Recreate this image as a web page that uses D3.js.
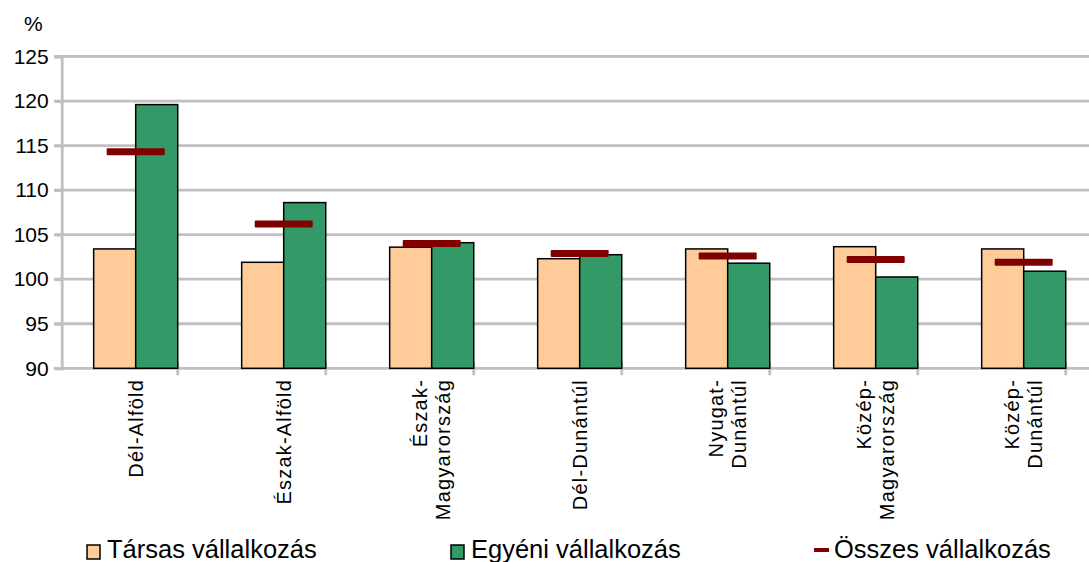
<!DOCTYPE html>
<html>
<head>
<meta charset="utf-8">
<script src="https://cdn.jsdelivr.net/npm/d3@7"></script>
<style>
  body { margin: 0; background: #fff; }
  svg { display: block; font-family: "Liberation Sans", Arial, sans-serif; }
</style>
</head>
<body>
<svg id="chart"></svg>
<script>
// data
var regions = [
  ["Dél-Alföld"],
  ["Észak-Alföld"],
  ["Észak-", "Magyarország"],
  ["Dél-Dunántúl"],
  ["Nyugat-", "Dunántúl"],
  ["Közép-", "Magyarország"],
  ["Közép-", "Dunántúl"]
];
var tarsas = [103.4, 101.9, 103.6, 102.3, 103.4, 103.65, 103.4];
var egyeni = [119.6, 108.6, 104.1, 102.75, 101.8, 100.25, 100.9];
var osszes = [114.3, 106.2, 104.0, 102.9, 102.6, 102.2, 101.9];
var yTicks = [90, 95, 100, 105, 110, 115, 120, 125];
var seriesNames = ["Társas vállalkozás", "Egyéni vállalkozás", "Összes vállalkozás"];

var width = 1089,
    height = 562;

var svg = d3.select("#chart")
    .attr("width", width)
    .attr("height", height);

var names = regions.map(d => d.join(" "));

// scales
var xScale =
  d3.scaleBand()
    .domain(names)
    .range([61.7, 1097.7])
    .paddingInner(0.432)
    .paddingOuter(0.216);

var yScale =
  d3.scaleLinear()
    .domain([90, 125])
    .range([368.3, 56.5]);

var grey = "#c0c0c0";

// gridlines
svg.append("g")
  .selectAll("line")
  .data(yTicks.slice(1))
  .enter()
  .append("line")
    .attr("x1", 54)
    .attr("x2", width)
    .attr("y1", d => yScale(d))
    .attr("y2", d => yScale(d))
    .attr("stroke", grey)
    .attr("stroke-width", 2.8);

// y axis
var yAxis = svg.append("g")
    .attr("transform", "translate(61.7,0)")
    .call(d3.axisLeft(yScale).tickValues(yTicks).tickSize(7).tickPadding(6));

yAxis.select(".domain").attr("stroke", grey).attr("stroke-width", 2.8);
yAxis.selectAll(".tick line").attr("stroke", grey).attr("stroke-width", 2.8);
yAxis.selectAll(".tick text")
    .attr("fill", "#000")
    .style("font-size", "21px")
    .style("font-family", "Liberation Sans, Arial, sans-serif");

svg.append("text")
    .text("%")
    .attr("x", 24)
    .attr("y", 31)
    .style("font-size", "21px");

// x axis baseline + category ticks
var step = xScale.step();
var boundaries = d3.range(names.length + 1).map(i => xScale(names[0]) - xScale.paddingOuter() * step - xScale.paddingInner() * step / 2 + i * step);

svg.append("line")
    .attr("x1", 54)
    .attr("x2", width)
    .attr("y1", yScale(90))
    .attr("y2", yScale(90))
    .attr("stroke", grey)
    .attr("stroke-width", 2.8);

svg.append("g")
  .selectAll("line")
  .data(boundaries.slice(1))
  .enter()
  .append("line")
    .attr("x1", d => d)
    .attr("x2", d => d)
    .attr("y1", yScale(90) - 6)
    .attr("y2", yScale(90) + 7)
    .attr("stroke", grey)
    .attr("stroke-width", 2.8);

// bars
var bw = xScale.bandwidth() / 2;

svg.append("g")
  .selectAll("rect")
  .data(tarsas)
  .enter()
  .append("rect")
    .attr("x", (d, i) => xScale(names[i]))
    .attr("y", d => yScale(d))
    .attr("width", bw)
    .attr("height", d => yScale(90) - yScale(d))
    .attr("fill", "#ffcc99")
    .attr("stroke", "#000")
    .attr("stroke-width", 1.5);

svg.append("g")
  .selectAll("rect")
  .data(egyeni)
  .enter()
  .append("rect")
    .attr("x", (d, i) => xScale(names[i]) + bw)
    .attr("y", d => yScale(d))
    .attr("width", bw)
    .attr("height", d => yScale(90) - yScale(d))
    .attr("fill", "#339966")
    .attr("stroke", "#000")
    .attr("stroke-width", 1.5);

// total markers
svg.append("g")
  .selectAll("rect")
  .data(osszes)
  .enter()
  .append("rect")
    .attr("x", (d, i) => xScale(names[i]) + bw - 29)
    .attr("y", d => yScale(d) - 3.5)
    .attr("width", 58)
    .attr("height", 7)
    .attr("rx", 1)
    .attr("fill", "#800000");

// category labels
var labels = svg.append("g")
  .selectAll("text")
  .data(regions)
  .enter()
  .append("text")
    .attr("transform", (d, i) => `translate(${xScale(names[i]) + bw}, 379) rotate(-90)`)
    .attr("text-anchor", "end")
    .style("font-size", "20px")
    .style("letter-spacing", "1.2px");

labels.selectAll("tspan")
  .data(d => d.map((t, j) => ({ t: t, j: j, n: d.length })))
  .enter()
  .append("tspan")
    .attr("x", 0)
    .attr("y", d => (d.j - (d.n - 1) / 2) * 23)
    .attr("dy", "0.35em")
    .text(d => d.t);

// legend
var legendX = [87, 451, 814];
var legend = svg.append("g");

legend.append("rect")
    .attr("x", legendX[0]).attr("y", 545).attr("width", 13).attr("height", 14)
    .attr("fill", "#ffcc99").attr("stroke", "#000").attr("stroke-width", 1.5);
legend.append("rect")
    .attr("x", legendX[1]).attr("y", 545).attr("width", 13).attr("height", 14)
    .attr("fill", "#339966").attr("stroke", "#000").attr("stroke-width", 1.5);
legend.append("rect")
    .attr("x", legendX[2]).attr("y", 548).attr("width", 15).attr("height", 4)
    .attr("fill", "#800000");

legend.selectAll("text")
  .data(seriesNames)
  .enter()
  .append("text")
    .text(d => d)
    .attr("x", (d, i) => legendX[i] + 20)
    .attr("y", 558)
    .style("font-size", "25.5px");
</script>
</body>
</html>
